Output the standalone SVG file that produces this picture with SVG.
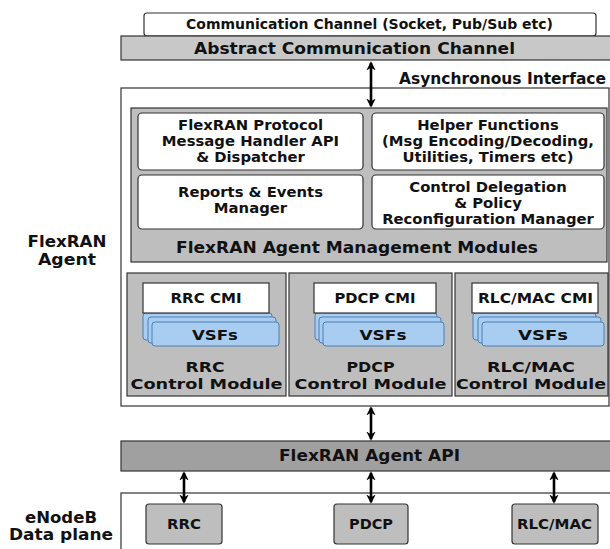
<svg xmlns="http://www.w3.org/2000/svg" width="610" height="549" viewBox="0 0 610 549">
<style>
text{font-family:"DejaVu Sans","Liberation Sans",sans-serif;font-weight:bold;fill:#111;text-anchor:middle}
.ln{stroke:#333;stroke-width:1.2}
.white{fill:#fff}
.g1{fill:#c8c8c8}
.g2{fill:#bebebe}
.g3{fill:#a0a0a0}
.vsf{fill:#a8cdf0;stroke:#4a7fb5;stroke-width:1}
.s13{font-size:13.5px}
.s14{font-size:14px}
.s145{font-size:14.5px}
.s15{font-size:15px}
.arr{stroke:#000;stroke-width:2.6;fill:none;marker-start:url(#ah);marker-end:url(#ah)}
</style>
<defs>
<marker id="ah" viewBox="0 0 10 10" refX="8" refY="5" markerWidth="3.6" markerHeight="3.6" orient="auto-start-reverse" markerUnits="strokeWidth">
<path d="M0,0 L10,5 L0,10 L3,5 z" fill="#000"/>
</marker>
</defs>

<g id="comm-channel">
<rect class="white ln" x="144" y="13" width="452" height="23" rx="3"/>
<text class="s13" x="369.5" y="29" textLength="367" lengthAdjust="spacingAndGlyphs">Communication Channel (Socket, Pub/Sub etc)</text>
</g>
<g id="abstract-channel">
<rect class="g1 ln" x="121" y="36" width="495" height="24"/>
<text class="s15" x="354.5" y="53.5" textLength="321" lengthAdjust="spacingAndGlyphs">Abstract Communication Channel</text>
</g>
<g id="async-label">
<text class="s15" x="502.5" y="84" textLength="207" lengthAdjust="spacingAndGlyphs">Asynchronous Interface</text>
</g>

<g id="flexran-agent">
<rect class="white ln" x="121" y="88" width="488" height="318"/>
<text class="s15" x="67" y="247" textLength="79" lengthAdjust="spacingAndGlyphs">FlexRAN</text>
<text class="s15" x="67" y="265" textLength="58" lengthAdjust="spacingAndGlyphs">Agent</text>
</g>

<g id="mgmt-modules">
<rect class="g2 ln" x="131" y="108" width="476" height="154"/>
<text class="s15" x="357" y="253" textLength="362" lengthAdjust="spacingAndGlyphs">FlexRAN Agent Management Modules</text>
</g>
<g id="protocol-handler">
<rect class="white ln" x="138" y="113" width="225" height="57" rx="4"/>
<g transform="translate(250.5,0) scale(1.06,1)">
<text class="s14" x="0" y="130">FlexRAN Protocol</text>
<text class="s14" x="0" y="146">Message Handler API</text>
<text class="s14" x="0" y="162">&amp; Dispatcher</text>
</g>
</g>
<g id="helper-functions">
<rect class="white ln" x="372" y="113" width="232" height="57" rx="4"/>
<g transform="translate(488,0) scale(1.06,1)">
<text class="s14" x="0" y="130">Helper Functions</text>
<text class="s14" x="0" y="146">(Msg Encoding/Decoding,</text>
<text class="s14" x="0" y="162">Utilities, Timers etc)</text>
</g>
</g>
<g id="reports-events">
<rect class="white ln" x="138" y="175" width="225" height="54" rx="4"/>
<g transform="translate(250.5,0) scale(1.06,1)">
<text class="s14" x="0" y="197">Reports &amp; Events</text>
<text class="s14" x="0" y="213">Manager</text>
</g>
</g>
<g id="control-delegation">
<rect class="white ln" x="372" y="175" width="232" height="54" rx="4"/>
<g transform="translate(488,0) scale(1.06,1)">
<text class="s14" x="0" y="192">Control Delegation</text>
<text class="s14" x="0" y="208">&amp; Policy</text>
<text class="s14" x="0" y="224">Reconfiguration Manager</text>
</g>
</g>

<g id="rrc-control-module">
<rect class="g2 ln" x="127" y="273" width="159" height="123"/>
<rect class="vsf" x="143" y="313" width="129" height="27" rx="3"/>
<rect class="vsf" x="148" y="317" width="128" height="26" rx="3"/>
<rect class="vsf" x="152" y="322" width="127" height="24" rx="3"/>
<rect class="white ln" x="143" y="283" width="126" height="30"/>
<text class="s13" x="206" y="303" textLength="71" lengthAdjust="spacingAndGlyphs">RRC CMI</text>
<text class="s145" x="215" y="339.5" textLength="46" lengthAdjust="spacingAndGlyphs">VSFs</text>
<text class="s145" x="205" y="372" textLength="39" lengthAdjust="spacingAndGlyphs">RRC</text>
<text class="s145" x="206.5" y="389" textLength="152" lengthAdjust="spacingAndGlyphs">Control Module</text>
</g>
<g id="pdcp-control-module">
<rect class="g2 ln" x="289" y="273" width="163" height="123"/>
<rect class="vsf" x="315" y="313" width="122" height="27" rx="3"/>
<rect class="vsf" x="319" y="317" width="122" height="26" rx="3"/>
<rect class="vsf" x="323" y="322" width="121" height="24" rx="3"/>
<rect class="white ln" x="314" y="283" width="122" height="30"/>
<text class="s13" x="375" y="303" textLength="81" lengthAdjust="spacingAndGlyphs">PDCP CMI</text>
<text class="s145" x="383" y="339.5" textLength="47" lengthAdjust="spacingAndGlyphs">VSFs</text>
<text class="s145" x="370.5" y="372" textLength="48" lengthAdjust="spacingAndGlyphs">PDCP</text>
<text class="s145" x="370.5" y="389" textLength="152" lengthAdjust="spacingAndGlyphs">Control Module</text>
</g>
<g id="rlcmac-control-module">
<rect class="g2 ln" x="455" y="273" width="153" height="123"/>
<rect class="vsf" x="473" y="313" width="123" height="27" rx="3"/>
<rect class="vsf" x="478" y="317" width="123" height="26" rx="3"/>
<rect class="vsf" x="482" y="322" width="122" height="24" rx="3"/>
<rect class="white ln" x="472" y="283" width="126" height="30"/>
<text class="s13" x="535.5" y="303" textLength="115" lengthAdjust="spacingAndGlyphs">RLC/MAC CMI</text>
<text class="s145" x="543" y="339.5" textLength="50" lengthAdjust="spacingAndGlyphs">VSFs</text>
<text class="s145" x="531" y="372" textLength="88" lengthAdjust="spacingAndGlyphs">RLC/MAC</text>
<text class="s145" x="531" y="389" textLength="150" lengthAdjust="spacingAndGlyphs">Control Module</text>
</g>

<g id="agent-api">
<rect class="g3 ln" x="121" y="441" width="495" height="30"/>
<text class="s15" x="369.5" y="461" textLength="181" lengthAdjust="spacingAndGlyphs">FlexRAN Agent API</text>
</g>

<g id="enodeb-data-plane">
<rect class="white ln" x="121" y="493" width="495" height="70"/>
<text class="s15" x="61" y="523" textLength="72" lengthAdjust="spacingAndGlyphs">eNodeB</text>
<text class="s15" x="61" y="540" textLength="104" lengthAdjust="spacingAndGlyphs">Data plane</text>
</g>
<g id="dp-rrc">
<rect class="g2 ln" x="146" y="504" width="76" height="40" rx="3"/>
<text class="s13" x="184" y="529" textLength="34" lengthAdjust="spacingAndGlyphs">RRC</text>
</g>
<g id="dp-pdcp">
<rect class="g2 ln" x="334" y="504" width="74" height="40" rx="3"/>
<text class="s13" x="371" y="529" textLength="44" lengthAdjust="spacingAndGlyphs">PDCP</text>
</g>
<g id="dp-rlcmac">
<rect class="g2 ln" x="512" y="504" width="86" height="40" rx="3"/>
<text class="s13" x="554.5" y="529" textLength="75" lengthAdjust="spacingAndGlyphs">RLC/MAC</text>
</g>

<g id="connectors">
<line class="arr" x1="371" y1="63" x2="371" y2="106"/>
<line class="arr" x1="371" y1="408" x2="371" y2="439"/>
<line class="arr" x1="184" y1="473" x2="184" y2="502"/>
<line class="arr" x1="371" y1="473" x2="371" y2="502"/>
<line class="arr" x1="554" y1="473" x2="554" y2="502"/>
</g>
</svg>
